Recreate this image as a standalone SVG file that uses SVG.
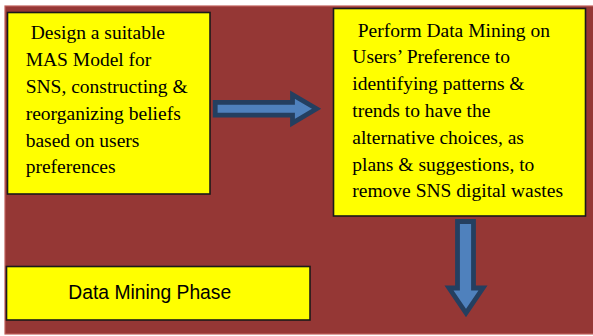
<svg xmlns="http://www.w3.org/2000/svg" width="593" height="336" viewBox="0 0 593 336">
<style>
.box{fill:#ffff00;stroke:#1a1a1a;stroke-width:1.6}
.t{font-family:"Liberation Serif","Times New Roman",serif;font-size:19.5px;fill:#000}
.s{font-family:"Liberation Sans",Arial,sans-serif;font-size:19.3px;fill:#000}
.arrow{fill:#4f81bd;stroke:#243f60;stroke-width:4.8;stroke-linejoin:miter}
</style>
<rect x="0" y="0" width="593" height="336" fill="#ffffff"/>
<rect x="5" y="6" width="592" height="328" fill="#953735" stroke="#c0605c" stroke-width="1.2"/>
<g id="node-design">
<rect class="box" x="7.5" y="12.5" width="202.5" height="181.5"/>
<text class="t"><tspan x="30.7" y="39.3">Design a suitable</tspan><tspan x="25.7" y="66.1">MAS Model for</tspan><tspan x="25.7" y="92.9">SNS, constructing &amp;</tspan><tspan x="25.7" y="119.7">reorganizing beliefs</tspan><tspan x="25.7" y="146.5">based on users</tspan><tspan x="25.7" y="173.3">preferences</tspan></text>
</g>
<g id="node-mining">
<rect class="box" x="333.5" y="8.5" width="252" height="207.5"/>
<text class="t"><tspan x="357.7" y="36.6">Perform Data Mining on</tspan><tspan x="352.3" y="63.4">Users’ Preference to</tspan><tspan x="352.3" y="90.2">identifying patterns &amp;</tspan><tspan x="352.3" y="117">trends to have the</tspan><tspan x="352.3" y="143.8">alternative choices, as</tspan><tspan x="352.3" y="170.6">plans &amp; suggestions, to</tspan><tspan x="352.3" y="197.4">remove SNS digital wastes</tspan></text>
</g>
<g id="node-phase">
<rect class="box" x="6.5" y="266.5" width="303.5" height="53.5"/>
<text class="s" x="68.3" y="299.2">Data Mining Phase</text>
</g>
<g id="connectors">
<path class="arrow" d="M215.2,102.4 L292.5,102.4 L292.5,94.6 L316.5,108.8 L292.5,123 L292.5,115.2 L215.2,115.2 Z"/>
<path class="arrow" d="M457.5,221.5 L473.5,221.5 L473.5,288 L483,288 L466,313 L449,288 L457.5,288 Z"/>
</g>
</svg>
